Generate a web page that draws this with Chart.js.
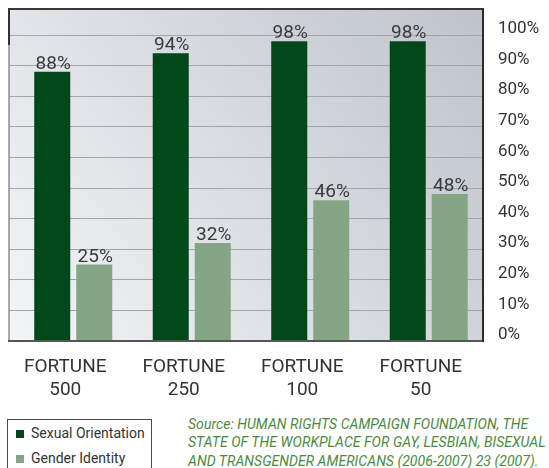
<!DOCTYPE html>
<html>
<head>
<meta charset="utf-8">
<script src="https://cdn.jsdelivr.net/npm/chart.js@4.4.1/dist/chart.umd.min.js"></script>
<style>
  html, body { margin:0; padding:0; background:#fff; }
  body { width:549px; height:468px; position:relative; overflow:hidden; font-family: Roboto, "DejaVu Sans", sans-serif; }
  #wrap { position:absolute; left:0; top:0; width:549px; height:410px; }
  #legend { position:absolute; left:7px; top:419px; width:145px; height:60px; border:1px solid #4a4a4a; box-sizing:border-box; padding:1px 0 0 8px; background:#fff; }
  #legend .item { font-size:14px; line-height:25px; color:#333; white-space:nowrap; }
  #legend .sw { display:inline-block; width:8px; height:8px; margin-right:7px; vertical-align:baseline; }
  #src { position:absolute; left:188px; top:415px; width:361px; font-size:14px; letter-spacing:0.05px; line-height:18.4px; font-style:italic; color:#4b8a3c; white-space:nowrap; }
</style>
</head>
<body>
<div id="wrap"><canvas id="c" width="549" height="410"></canvas></div>
<div id="legend"></div>
<div id="src">Source: HUMAN RIGHTS CAMPAIGN FOUNDATION, THE<br>STATE OF THE WORKPLACE FOR GAY, LESBIAN, BISEXUAL<br>AND TRANSGENDER AMERICANS (2006-2007) 23 (2007).</div>
<script>
// ---- data ----
const categories = ["FORTUNE 500", "FORTUNE 250", "FORTUNE 100", "FORTUNE 50"];
const seriesNames = ["Sexual Orientation", "Gender Identity"];
const sexualOrientation = [88, 94, 98, 98];
const genderIdentity = [25, 32, 46, 48];
const yTickValues = [0, 10, 20, 30, 40, 50, 60, 70, 80, 90, 100];
const seriesColors = ["#00471a", "#84a684"];

// plot background + frame
const framePlugin = {
  id: 'frame',
  beforeDraw(chart) {
    const a = chart.chartArea, ctx = chart.ctx;
    ctx.save();
    const g = ctx.createLinearGradient(a.left, a.bottom, a.right, a.top);
    g.addColorStop(0, '#f4f5f7');
    g.addColorStop(0.5, '#d9dce1');
    g.addColorStop(1, '#bfc3cb');
    ctx.fillStyle = g;
    ctx.fillRect(a.left, a.top, a.right - a.left, a.bottom - a.top);
    ctx.restore();
  },
  afterDatasetsDraw(chart) {
    const a = chart.chartArea, ctx = chart.ctx;
    ctx.save();
    // left (light)
    ctx.strokeStyle = '#8e8e8e'; ctx.lineWidth = 1.5;
    ctx.beginPath(); ctx.moveTo(a.left, a.top); ctx.lineTo(a.left, a.bottom); ctx.stroke();
    ctx.strokeStyle = '#333'; ctx.lineWidth = 2;
    ctx.beginPath(); ctx.moveTo(a.left, a.top); ctx.lineTo(a.left, a.top + 36); ctx.stroke();
    // bottom
    ctx.strokeStyle = '#555'; ctx.lineWidth = 2;
    ctx.beginPath(); ctx.moveTo(a.left - 1, a.bottom); ctx.lineTo(a.right, a.bottom); ctx.stroke();
    // top
    ctx.strokeStyle = '#383838'; ctx.lineWidth = 2;
    ctx.beginPath(); ctx.moveTo(a.left - 1, a.top); ctx.lineTo(a.right + 1, a.top); ctx.stroke();
    // right
    ctx.strokeStyle = '#2c2c2c'; ctx.lineWidth = 2;
    ctx.beginPath(); ctx.moveTo(a.right, a.top); ctx.lineTo(a.right, a.bottom + 1); ctx.stroke();

    // value labels
    ctx.font = '19px Roboto';
    ctx.fillStyle = '#3a3a3a';
    ctx.textAlign = 'center';
    ctx.textBaseline = 'alphabetic';
    chart.data.datasets.forEach((ds, di) => {
      chart.getDatasetMeta(di).data.forEach((el, i) => {
        ctx.fillText(ds.data[i] + '%', el.x + 1, el.y - 3);
      });
    });
    ctx.restore();
  }
};

// bars sit a few px right of the category centres in the reference
const shiftPlugin = {
  id: 'shiftX',
  afterLayout(chart) {
    const s = chart.scales.x;
    s.left += 5; s.right += 5;
    s.configure();
  }
};

const chart = new Chart(document.getElementById('c'), {
  type: 'bar',
  data: {
    labels: categories.map(c => c.split(' ')),
    datasets: [
      { label: seriesNames[0], data: sexualOrientation, backgroundColor: seriesColors[0] },
      { label: seriesNames[1], data: genderIdentity, backgroundColor: seriesColors[1] }
    ]
  },
  options: {
    responsive: false,
    animation: false,
    layout: { autoPadding: false, padding: { left: 9, top: 9, right: 0, bottom: 0 } },
    datasets: { bar: { barPercentage: 0.857, categoryPercentage: 0.709, borderWidth: 0 } },
    plugins: { legend: { display: false }, tooltip: { enabled: false } },
    scales: {
      x: {
        grid: { display: false, drawTicks: false },
        border: { display: false },
        ticks: { font: { family: 'Roboto', size: 19 }, color: '#333', padding: 15, labelOffset: -8, maxRotation: 0, autoSkip: false },
        afterFit(s) { s.height = 69; s.paddingLeft = 0; s.paddingRight = 0; }
      },
      y: {
        position: 'right',
        min: 0, max: 108.5,
        afterBuildTicks(s) { s.ticks = yTickValues.map(v => ({ value: v })); },
        grid: { color: '#a2a5aa', lineWidth: 1, drawTicks: false },
        border: { display: false },
        ticks: { font: { family: 'Roboto', size: 17 }, color: '#333', padding: 15, labelOffset: -6, callback: v => v + '%' },
        afterFit(s) { s.width = 66; s.paddingTop = 0; s.paddingBottom = 0; }
      }
    }
  },
  plugins: [framePlugin, shiftPlugin]
});

// HTML legend built from the chart's datasets
const leg = document.getElementById('legend');
chart.data.datasets.forEach(ds => {
  const d = document.createElement('div');
  d.className = 'item';
  const sw = document.createElement('span');
  sw.className = 'sw';
  sw.style.background = ds.backgroundColor;
  d.appendChild(sw);
  d.appendChild(document.createTextNode(ds.label));
  leg.appendChild(d);
});
</script>
</body>
</html>
